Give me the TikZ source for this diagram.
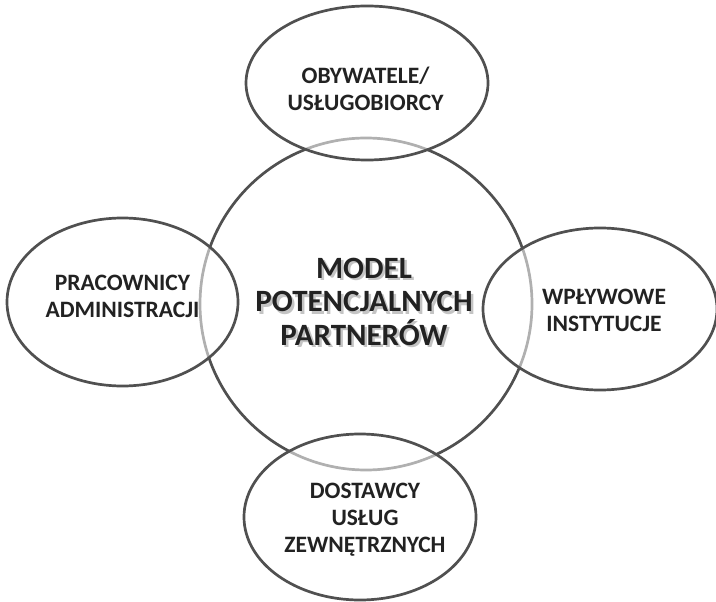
\documentclass[tikz,border=0pt]{standalone}
\usepackage{fontspec}
\setmainfont{Carlito}
\usetikzlibrary{shapes.geometric}
\definecolor{linegray}{HTML}{505050}
\definecolor{textdark}{HTML}{222222}
\definecolor{shadowgray}{HTML}{8A8A8A}
\tikzset{
  bubble/.style={ellipse, draw=linegray, line width=2.7bp, fill=white, fill opacity=0.55, inner sep=0pt},
  hub/.style={circle, draw=linegray, line width=2.7bp, inner sep=0pt, minimum size=332bp},
  lbl/.style={text=textdark, align=center, inner sep=0pt, font=\fontsize{23.5bp}{27bp}\selectfont\bfseries},
  hublbl/.style={align=center, inner sep=0pt, font=\fontsize{31bp}{33.5bp}\selectfont\bfseries},
}
\begin{document}
\begin{tikzpicture}[x=1bp,y=-1bp]
\useasboundingbox (0,0) rectangle (716,602);
% central circle
\node[hub] (hub) at (366,304) {};
% surrounding ellipses
\node[bubble, minimum width=242bp, minimum height=154bp] (top) at (367,83) {};
\node[bubble, minimum width=231bp, minimum height=168bp] (left) at (122.5,302) {};
\node[bubble, minimum width=234bp, minimum height=162bp] (right) at (600,309) {};
\node[bubble, minimum width=232bp, minimum height=166bp] (bottom) at (360,517) {};
% labels
\node[lbl] (ttop) at (365.5,89) {OBYWATELE/\\USŁUGOBIORCY};
\node[lbl] (tleft) at (122.5,296) {PRACOWNICY\\ADMINISTRACJI};
\node[lbl] (tright) at (604,310) {WPŁYWOWE\\INSTYTUCJE};
\node[lbl] (tbottom) at (365,520) {DOSTAWCY\\USŁUG\\ZEWNĘTRZNYCH};
% central label with soft shadow
\node[hublbl, text=shadowgray, text opacity=0.5] (hubshadow) at (366.5,304) {MODEL\\POTENCJALNYCH\\PARTNERÓW};
\node[hublbl, text=textdark] (hubtext) at (364,301.5) {MODEL\\POTENCJALNYCH\\PARTNERÓW};
\end{tikzpicture}
\end{document}
